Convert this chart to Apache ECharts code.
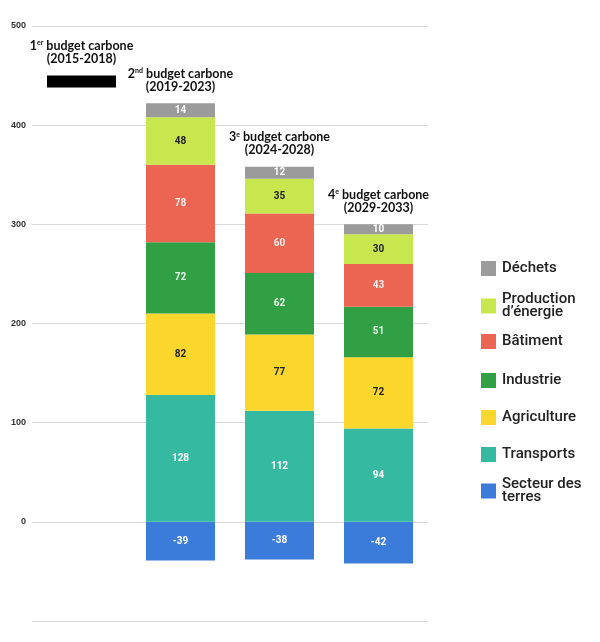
<!DOCTYPE html>
<html><head><meta charset="utf-8">
<script src="https://cdn.jsdelivr.net/npm/echarts@6/dist/echarts.min.js"></script>
<style>html,body{margin:0;padding:0;background:#fff}#c{width:600px;height:642px}</style>
</head><body><div id="c"></div>
<script>
const categories = ['b1', 'b2', 'b3', 'b4'];
const budgetNums = ['1', '2', '3', '4'];
const budgetSups = ['er', 'nd', 'e', 'e'];
const budgetYears = ['(2015-2018)', '(2019-2023)', '(2024-2028)', '(2029-2033)'];
const firstBudgetBase = [438, '-', '-', '-'];
const firstBudgetMark = [12, '-', '-', '-'];
const secteurTerres = ['-', -39, -38, -42];
const transports = ['-', 128, 112, 94];
const agriculture = ['-', 82, 77, 72];
const industrie = ['-', 72, 62, 51];
const batiment = ['-', 78, 60, 43];
const production = ['-', 48, 35, 30];
const dechets = ['-', 14, 12, 10];
const titleAnchor = [0, 0, 0, 0];
const yTicks = [-100, 0, 100, 200, 300, 400, 500];

const segs = [
  {name: 'Secteur des\nterres', data: secteurTerres, color: '#3b7bd9', lc: '#ffffff'},
  {name: 'Transports', data: transports, color: '#35b9a1', lc: '#ffffff'},
  {name: 'Agriculture', data: agriculture, color: '#fbd72e', lc: '#222222'},
  {name: 'Industrie', data: industrie, color: '#31a044', lc: '#e8f5e8'},
  {name: 'Bâtiment', data: batiment, color: '#ec6553', lc: '#fdeeee'},
  {name: 'Production\nd’énergie', data: production, color: '#c8e64d', lc: '#222222'},
  {name: 'Déchets', data: dechets, color: '#9b9b9b', lc: '#ffffff'}
];

const series = [
  {type: 'bar', stack: 't', barWidth: 69, data: firstBudgetBase, itemStyle: {color: 'transparent'}, silent: true},
  {type: 'bar', stack: 't', barWidth: 69, data: firstBudgetMark, itemStyle: {color: '#000000'}, silent: true}
];
segs.forEach(s => series.push({
  type: 'bar', name: s.name, stack: 't', barWidth: 69, data: s.data,
  itemStyle: {color: s.color},
  label: {show: true, position: 'inside', color: s.lc, fontSize: 10, fontWeight: 'bold', fontFamily: 'Roboto'}
}));
series.push({
  type: 'bar', stack: 't', barWidth: 69, data: titleAnchor, itemStyle: {color: 'transparent'},
  label: {
    show: true, position: 'top', distance: 10,
    formatter: p => '{n|' + budgetNums[p.dataIndex] + '}{s|' + budgetSups[p.dataIndex] + '}{n| budget carbone}\n{n|' + budgetYears[p.dataIndex] + '}',
    rich: {
      n: {fontFamily: 'Lato', fontWeight: 'bold', fontSize: 12.5, color: '#111', lineHeight: 13},
      s: {fontFamily: 'Lato', fontWeight: 'bold', fontSize: 7, color: '#111', lineHeight: 13, padding: [0, 0, 6, 0]}
    }
  }
});

const legendTops = [256, 287, 329, 368, 405, 442, 472];
const legendOrder = [6, 5, 4, 3, 2, 1, 0];
const legends = legendOrder.map((i, k) => ({
  data: [segs[i].name], left: 476, top: legendTops[k], orient: 'vertical',
  itemWidth: 15, itemHeight: 15, icon: 'rect', itemGap: 0, selectedMode: false,
  textStyle: {fontFamily: 'Roboto', fontWeight: 500, fontSize: 15, color: '#222', lineHeight: 13, padding: [0, 0, 0, 1]}
}));

const chart = echarts.init(document.getElementById('c'));
chart.setOption({
  animation: false,
  color: segs.map(s => s.color),
  grid: {left: 32, right: 172, top: 26, bottom: 21},
  legend: legends,
  xAxis: {type: 'category', data: categories, axisLine: {show: false}, axisTick: {show: false}, axisLabel: {show: false}},
  yAxis: {
    type: 'value', min: yTicks[0], max: yTicks[yTicks.length - 1], interval: 100,
    axisLine: {show: false}, axisTick: {show: false},
    splitLine: {lineStyle: {color: '#d9d9d9', width: 1}},
    axisLabel: {margin: 6, fontSize: 9, fontWeight: 'bold', color: '#333', fontFamily: 'Liberation Sans',
      formatter: v => v < 0 ? '' : String(v)}
  },
  series: series
});
</script></body></html>
